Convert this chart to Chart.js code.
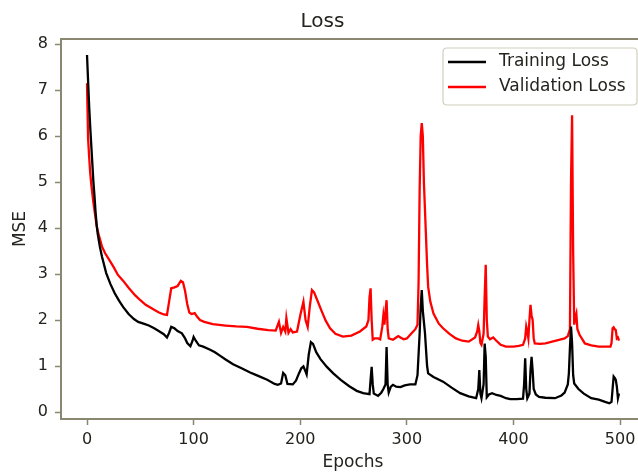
<!DOCTYPE html>
<html>
<head>
<meta charset="utf-8">
<script src="https://cdn.jsdelivr.net/npm/chart.js@4.4.1/dist/chart.umd.min.js"></script>
<style>
  html, body { margin: 0; padding: 0; background: #ffffff; overflow: hidden; }
  #wrap { position: absolute; left: 0; top: 0; width: 650px; height: 473px; }
</style>
</head>
<body>
<div id="wrap"><canvas id="c"></canvas></div>
<script>
// ---- Data ----
const chartTitle = 'Loss';
const xAxisLabel = 'Epochs';
const yAxisLabel = 'MSE';
const trainLabel = 'Training Loss';
const valLabel = 'Validation Loss';

const xTickValues = [0, 100, 200, 300, 400, 500];
const yTickValues = [0, 1, 2, 3, 4, 5, 6, 7, 8];

const trainEpochs = [0,1,2,3,4,5,6,7,8,9,10,12,14,18,22,26,30,34,39,44,48,53,58,63,68,72,75,77,79,82,85,89,92,94,97,99,100,102,105,109,115,120,125,130,137,145,153,160,169,176,179,182,184,186,188,193,196,199,201,203,205,206,208,210,212,215,219,225,231,238,246,253,259,265,266,267,268,269,273,276,278,280,281,282,283,285,287,290,294,298,303,308,310,312,313,314,315,317,319,320,325,334,342,350,358,365,367,368,369,370,372,373,374,375,377,380,384,388,393,397,403,409,410,411,412,413,415,416,417,418,419,421,424,430,439,445,448,451,452,453,454,455,456,457,461,466,473,480,486,490,492,493,494,495,496,497,498,499];
const trainLoss = [7.76,7.2,6.65,6.2,5.8,5.4,5.0,4.7,4.35,4.08,3.88,3.6,3.38,3.02,2.78,2.58,2.42,2.28,2.13,2.02,1.96,1.92,1.88,1.82,1.75,1.69,1.62,1.72,1.85,1.82,1.76,1.71,1.6,1.5,1.43,1.55,1.63,1.55,1.45,1.42,1.36,1.3,1.22,1.14,1.04,0.95,0.86,0.79,0.7,0.61,0.59,0.62,0.85,0.8,0.61,0.6,0.68,0.85,0.95,0.99,0.88,0.82,1.25,1.52,1.48,1.3,1.15,0.98,0.84,0.7,0.56,0.46,0.41,0.39,0.7,0.98,0.6,0.4,0.35,0.42,0.5,0.6,1.41,0.6,0.42,0.55,0.59,0.55,0.54,0.58,0.6,0.6,0.8,1.7,2.3,2.65,2.2,1.72,1.0,0.84,0.76,0.66,0.53,0.41,0.34,0.3,0.5,0.91,0.4,0.3,0.6,1.49,1.2,0.32,0.38,0.41,0.37,0.35,0.3,0.28,0.28,0.29,0.6,1.17,0.5,0.3,0.4,0.9,1.2,0.9,0.5,0.38,0.33,0.31,0.3,0.36,0.42,0.6,0.84,1.4,1.86,1.5,0.8,0.62,0.5,0.4,0.3,0.27,0.22,0.19,0.22,0.5,0.77,0.74,0.7,0.55,0.3,0.4];

const valEpochs = [0,1,2,3,4,5,6,7,9,11,14,17,21,25,29,34,39,45,50,55,61,67,72,75,77,79,82,85,88,90,92,94,96,98,101,103,106,110,118,130,140,150,160,170,177,180,182,184,186,187,189,191,193,197,200,203,205,207,209,211,213,216,220,224,228,233,240,248,256,262,264,265,266,267,268,270,273,275,277,278,279,280,281,282,283,287,290,292,294,297,300,304,308,310,311,312,313,314,315,316,317,319,320,322,325,330,334,340,346,352,358,364,366,367,368,369,370,372,373,374,375,376,378,381,384,388,393,400,405,409,411,412,413,414,415,416,417,418,419,420,425,430,440,448,451,453,454,455,456,457,458,459,460,462,467,473,480,486,491,492,493,494,495,496,497,498,499];
const valLoss = [7.15,5.95,5.55,5.2,4.95,4.75,4.55,4.39,4.05,3.85,3.6,3.45,3.3,3.15,2.98,2.85,2.7,2.54,2.43,2.33,2.25,2.17,2.12,2.11,2.4,2.69,2.71,2.74,2.85,2.82,2.63,2.35,2.16,2.13,2.15,2.08,2.0,1.96,1.91,1.88,1.86,1.85,1.81,1.78,1.77,1.96,1.72,1.85,1.75,2.04,1.72,1.8,1.73,1.75,2.1,2.4,2.0,1.85,2.3,2.65,2.6,2.43,2.2,1.98,1.82,1.7,1.64,1.66,1.75,1.86,2.0,2.5,2.69,2.0,1.57,1.6,1.6,1.58,1.86,2.1,1.9,2.2,2.43,1.8,1.6,1.57,1.62,1.65,1.62,1.58,1.6,1.7,1.8,1.9,2.8,4.8,6.0,6.28,6.0,5.0,4.4,3.2,2.72,2.4,2.14,1.92,1.82,1.7,1.6,1.55,1.53,1.62,1.75,1.89,1.75,1.5,1.46,1.7,2.5,3.2,2.0,1.64,1.58,1.62,1.55,1.46,1.42,1.42,1.44,1.46,1.6,1.86,1.75,1.6,2.0,2.33,2.1,2.0,1.6,1.49,1.48,1.49,1.55,1.6,1.65,1.8,5.0,6.45,3.5,1.9,2.05,2.14,1.8,1.68,1.49,1.45,1.42,1.42,1.42,1.5,1.82,1.84,1.8,1.78,1.6,1.62,1.55];

// ---- Styling ----
const FONT = "'DejaVu Sans', 'Liberation Sans', sans-serif";
const SPINE = '#8a8770';
const TEXT = '#24241e';

const trainPoints = trainEpochs.map((e, i) => ({ x: e, y: trainLoss[i] }));
const valPoints = valEpochs.map((e, i) => ({ x: e, y: valLoss[i] }));

const framePlugin = {
  id: 'frame',
  afterDatasetsDraw(chart) {
    const { ctx, chartArea: a } = chart;
    ctx.save();
    ctx.strokeStyle = SPINE;
    ctx.lineWidth = 2;
    ctx.beginPath();
    ctx.moveTo(a.left, a.top);
    ctx.lineTo(a.right, a.top);
    ctx.lineTo(a.right, a.bottom);
    ctx.stroke();
    ctx.restore();
  }
};

const legendPlugin = {
  id: 'innerLegend',
  afterDraw(chart) {
    const { ctx, chartArea: a } = chart;
    const boxR = a.right - 8, boxT = a.top + 9;
    const boxW = 194, boxH = 57;
    const boxL = boxR - boxW;
    ctx.save();
    ctx.beginPath();
    const r = 4;
    ctx.moveTo(boxL + r, boxT);
    ctx.lineTo(boxR - r, boxT);
    ctx.quadraticCurveTo(boxR, boxT, boxR, boxT + r);
    ctx.lineTo(boxR, boxT + boxH - r);
    ctx.quadraticCurveTo(boxR, boxT + boxH, boxR - r, boxT + boxH);
    ctx.lineTo(boxL + r, boxT + boxH);
    ctx.quadraticCurveTo(boxL, boxT + boxH, boxL, boxT + boxH - r);
    ctx.lineTo(boxL, boxT + r);
    ctx.quadraticCurveTo(boxL, boxT, boxL + r, boxT);
    ctx.closePath();
    ctx.fillStyle = 'rgba(255,255,255,0.85)';
    ctx.fill();
    ctx.strokeStyle = '#d2d0bc';
    ctx.lineWidth = 1.2;
    ctx.stroke();
    chart.data.datasets.forEach((ds, i) => {
      const y = boxT + 14 + i * 25;
      ctx.beginPath();
      ctx.strokeStyle = ds.borderColor;
      ctx.lineWidth = 2.4;
      ctx.moveTo(boxL + 5, y);
      ctx.lineTo(boxL + 43, y);
      ctx.stroke();
      ctx.fillStyle = TEXT;
      ctx.font = '17px ' + FONT;
      ctx.textBaseline = 'middle';
      ctx.textAlign = 'left';
      ctx.fillText(ds.label, boxL + 56, y);
    });
    ctx.restore();
  }
};

new Chart(document.getElementById('c'), {
  type: 'line',
  data: {
    datasets: [
      { label: trainLabel, data: trainPoints, borderColor: '#000000', borderWidth: 2.3, pointRadius: 0, tension: 0, fill: false },
      { label: valLabel, data: valPoints, borderColor: '#ff0000', borderWidth: 2.3, pointRadius: 0, tension: 0, fill: false }
    ]
  },
  options: {
    responsive: true,
    maintainAspectRatio: false,
    animation: false,
    events: [],
    layout: { autoPadding: false, padding: { top: 0, right: 5, bottom: 0, left: 0 } },
    plugins: {
      legend: { display: false },
      tooltip: { enabled: false },
      title: {
        display: true,
        text: chartTitle,
        color: TEXT,
        font: { family: FONT, size: 20, weight: 'normal' },
        padding: { top: 10, bottom: 5 }
      }
    },
    scales: {
      x: {
        type: 'linear',
        min: -24.4,
        max: 523.4,
        afterBuildTicks: (s) => { s.ticks = xTickValues.map(v => ({ value: v })); },
        afterFit: (s) => { s.height = 54; },
        grid: { drawOnChartArea: false, drawTicks: true, tickLength: 6, tickColor: SPINE, tickWidth: 1.5 },
        border: { display: true, color: SPINE, width: 2 },
        ticks: { color: TEXT, font: { family: FONT, size: 16 }, padding: 5, maxRotation: 0, autoSkip: false },
        title: { display: true, text: xAxisLabel, color: TEXT, font: { family: FONT, size: 17 }, padding: { top: 0, bottom: 0 } }
      },
      y: {
        type: 'linear',
        min: -0.152,
        max: 8.109,
        afterBuildTicks: (s) => { s.ticks = yTickValues.map(v => ({ value: v })); },
        afterFit: (s) => { s.width = 61; },
        grid: { drawOnChartArea: false, drawTicks: true, tickLength: 6, tickColor: SPINE, tickWidth: 1.5 },
        border: { display: true, color: SPINE, width: 2 },
        ticks: { color: TEXT, font: { family: FONT, size: 16 }, padding: 7, autoSkip: false },
        title: { display: true, text: yAxisLabel, color: TEXT, font: { family: FONT, size: 17 }, padding: { top: 10, bottom: 0 } }
      }
    }
  },
  plugins: [framePlugin, legendPlugin]
});
</script>
</body>
</html>
